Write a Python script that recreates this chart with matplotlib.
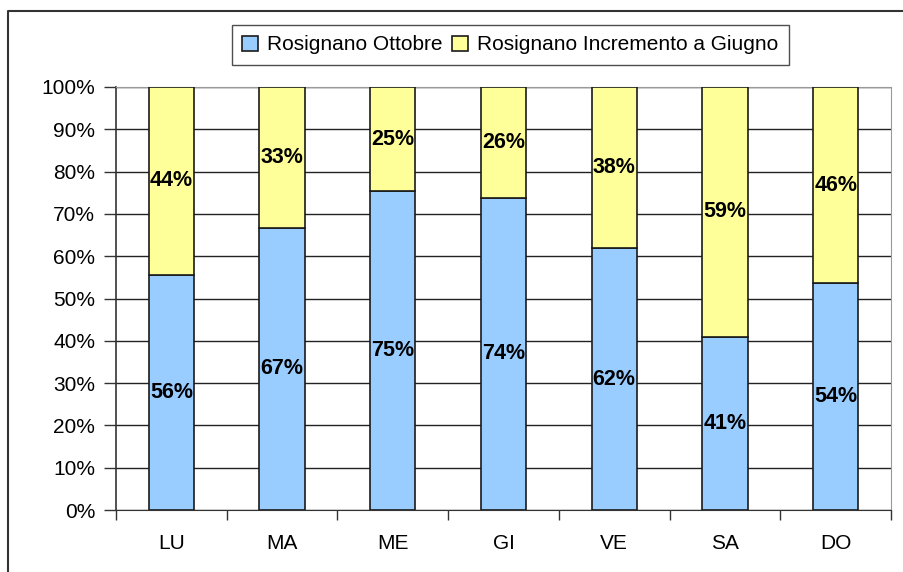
import numpy as np
import matplotlib.pyplot as plt
from matplotlib.lines import Line2D

# data (percent of the total)
days = ["LU", "MA", "ME", "GI", "VE", "SA", "DO"]
ottobre = [55.6, 66.7, 75.4, 73.8, 61.9, 40.9, 53.6]
ottobre_labels = ["56%", "67%", "75%", "74%", "62%", "41%", "54%"]
incremento_labels = ["44%", "33%", "25%", "26%", "38%", "59%", "46%"]
incremento = [100 - v for v in ottobre]

plt.rcParams['font.family'] = ['Liberation Sans', 'DejaVu Sans']

fig = plt.figure(figsize=(9.04, 5.72), dpi=100)
ax = fig.add_axes([116 / 904, 62 / 572, 775 / 904, 423 / 572])

x = np.arange(len(days))
w = 0.41
b1 = ax.bar(x, ottobre, w, color='#99CCFF', edgecolor='#1a1a1a', linewidth=1.2,
            label='Rosignano Ottobre', zorder=3)
b2 = ax.bar(x, incremento, w, bottom=ottobre, color='#FFFF99', edgecolor='#1a1a1a',
            linewidth=1.2, label='Rosignano Incremento a Giugno', zorder=3)

# labels in the middle of each segment
for i in range(len(days)):
    ax.text(x[i], ottobre[i] / 2, ottobre_labels[i], ha='center', va='center',
            fontsize=15.5, fontweight='bold', zorder=4)
    ax.text(x[i], ottobre[i] + incremento[i] / 2, incremento_labels[i], ha='center',
            va='center', fontsize=15.5, fontweight='bold', zorder=4)

ax.set_xlim(-0.5, len(days) - 0.5)
ax.set_ylim(0, 100)
ax.set_yticks(np.arange(0, 101, 10))
ax.set_yticklabels([f"{v}%" for v in range(0, 101, 10)], fontsize=15)
ax.yaxis.grid(True, color='#222222', linewidth=1, zorder=0)

ax.set_xticks(x)
ax.set_xticklabels(days, fontsize=15)
ax.set_xticks(np.arange(-0.5, len(days), 1), minor=True)
ax.tick_params(axis='x', which='major', length=0, pad=17)
ax.tick_params(axis='x', which='minor', length=7, width=1, color='#333333')
ax.tick_params(axis='y', length=9, width=1, color='#333333', pad=6)

for s in ['top', 'right']:
    ax.spines[s].set_color('#999999')
ax.spines['left'].set_color('#333333')
ax.spines['bottom'].set_color('#333333')
ax.spines['left'].set_linewidth(1.2)

leg = fig.legend(loc='upper left', bbox_to_anchor=(232 / 904, 1 - 25 / 572), ncol=2,
                 fontsize=15, frameon=True, fancybox=False, edgecolor='#222222',
                 handlelength=0.75, handleheight=0.75, handletextpad=0.45,
                 columnspacing=0.45, borderpad=0.5, borderaxespad=0)
leg.get_frame().set_linewidth(1)

# outer chart frame
fig.add_artist(Line2D([8 / 904, 8 / 904, 1.0], [0.0, 1 - 11 / 572, 1 - 11 / 572],
                      transform=fig.transFigure, color='#333333', linewidth=1.5))

fig.savefig('out.png', dpi=100)
